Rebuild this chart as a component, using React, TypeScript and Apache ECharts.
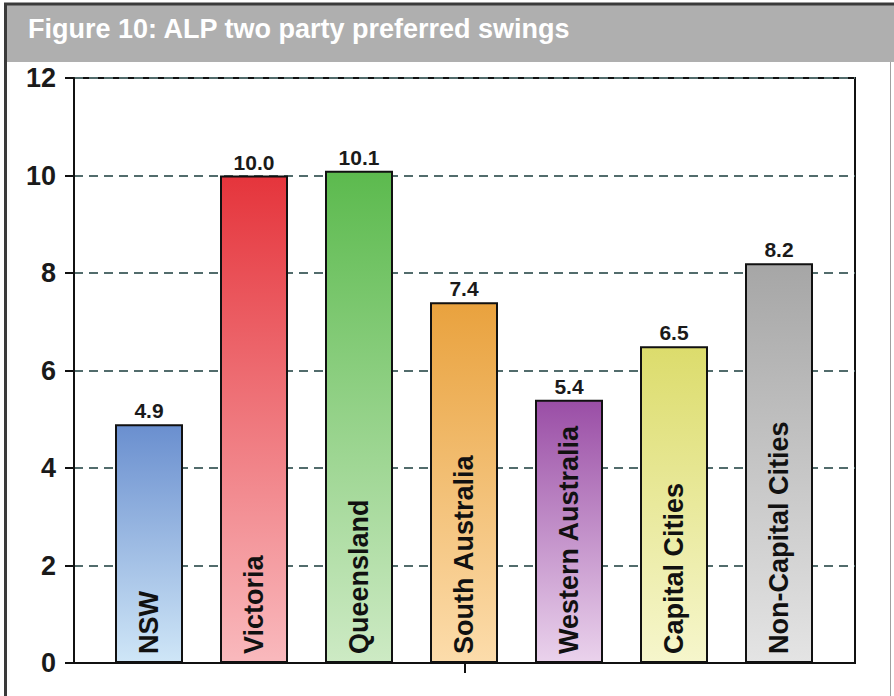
import React, { useEffect, useRef } from "react";
import * as echarts from "echarts";

const categories = [
  "NSW",
  "Victoria",
  "Queensland",
  "South Australia",
  "Western Australia",
  "Capital Cities",
  "Non-Capital Cities",
];
const swings = [4.9, 10.0, 10.1, 7.4, 5.4, 6.5, 8.2];
const barTopColors = ["#6a8fcf", "#e5353c", "#5cba4e", "#e9a23e", "#9a4ea6", "#dcdc6c", "#a6a6a6"];
const barBottomColors = ["#cfe6f7", "#f9b9bd", "#cdeac4", "#fcdcab", "#ead2ec", "#f6f6cc", "#e4e4e4"];
const yTicks = { min: 0, max: 12, interval: 2 };
const title = "Figure 10: ALP two party preferred swings";

const FONT = 'Arial, "Liberation Sans", Helvetica, sans-serif';

export default function App() {
  const ref = useRef<HTMLDivElement>(null);

  useEffect(() => {
    if (!ref.current) return;
    const chart = echarts.init(ref.current, null, { renderer: "svg" });

    const barData = swings.map((v, i) => ({
      value: v,
      itemStyle: {
        color: new echarts.graphic.LinearGradient(0, 0, 0, 1, [
          { offset: 0, color: barTopColors[i] },
          { offset: 1, color: barBottomColors[i] },
        ]),
        borderColor: "#111",
        borderWidth: 2,
      },
    }));

    chart.setOption({
      animation: false,
      backgroundColor: "#ffffff",
      graphic: [
        {
          type: "rect",
          shape: { x: 5, y: 4, width: 889, height: 58 },
          style: { fill: "#afafaf" },
          z: 1,
        },
        {
          type: "line",
          shape: { x1: 4, y1: 4, x2: 894, y2: 4 },
          style: { stroke: "#3a3a3a", lineWidth: 3 },
          z: 2,
        },
        {
          type: "line",
          shape: { x1: 5.5, y1: 3, x2: 5.5, y2: 696 },
          style: { stroke: "#3a3a3a", lineWidth: 3 },
          z: 2,
        },
        {
          type: "line",
          shape: { x1: 890.5, y1: 62, x2: 890.5, y2: 696 },
          style: { stroke: "#a0a0a0", lineWidth: 1 },
          z: 2,
        },
        {
          type: "text",
          x: 28,
          y: 29,
          style: {
            text: title,
            fill: "#ffffff",
            font: `bold 27px ${FONT}`,
            verticalAlign: "middle",
            align: "left",
          },
          z: 3,
        },
      ],
      grid: [
        {
          left: 74,
          top: 78,
          width: 781,
          height: 585,
          show: true,
          borderColor: "#111",
          borderWidth: 2,
          backgroundColor: "#fff",
        },
        {
          left: 96.5,
          top: 78,
          width: 735,
          height: 585,
        },
      ],
      xAxis: [
        {
          type: "category",
          gridIndex: 0,
          data: ["mid"],
          axisLine: { show: true, lineStyle: { color: "#111", width: 2 } },
          axisTick: {
            show: true,
            alignWithLabel: true,
            interval: 0,
            length: 10,
            lineStyle: { color: "#111", width: 2 },
          },
          axisLabel: { show: true, interval: 0, formatter: () => "", color: "transparent" },
          splitLine: { show: false },
        },
        {
          type: "category",
          gridIndex: 1,
          data: categories,
          show: false,
        },
      ],
      yAxis: [
        {
          type: "value",
          gridIndex: 0,
          min: yTicks.min,
          max: yTicks.max,
          interval: yTicks.interval,
          axisLine: { show: true, lineStyle: { color: "#111", width: 2 } },
          axisTick: { show: true, length: 9, lineStyle: { color: "#111", width: 2 } },
          axisLabel: {
            color: "#1a1a1a",
            fontFamily: FONT,
            fontWeight: "bold",
            fontSize: 27,
            margin: 18,
          },
          splitLine: {
            show: true,
            lineStyle: { color: "#526c6c", width: 2, type: [9, 6] },
          },
        },
        {
          type: "value",
          gridIndex: 1,
          min: yTicks.min,
          max: yTicks.max,
          interval: yTicks.interval,
          show: false,
          splitLine: { show: false },
        },
      ],
      series: [
        {
          type: "bar",
          xAxisIndex: 1,
          yAxisIndex: 1,
          data: barData,
          barWidth: 68,
          z: 3,
          label: {
            show: true,
            position: "top",
            distance: 3,
            color: "#1a1a1a",
            fontFamily: FONT,
            fontWeight: "bold",
            fontSize: 21,
            formatter: (p: any) => Number(p.value).toFixed(1),
          },
        },
        {
          type: "bar",
          xAxisIndex: 1,
          yAxisIndex: 1,
          data: swings,
          barWidth: 68,
          barGap: "-100%",
          z: 4,
          itemStyle: { color: "transparent", borderWidth: 0 },
          label: {
            show: true,
            position: "insideBottom",
            rotate: 90,
            align: "left",
            verticalAlign: "middle",
            distance: 9,
            color: "#111",
            fontFamily: FONT,
            fontWeight: "bold",
            fontSize: 27,
            formatter: "{b}",
          },
        },
      ],
    });

    return () => chart.dispose();
  }, []);

  return (
    <div
      ref={ref}
      style={{ position: "fixed", left: 0, top: 0, width: 894, height: 696 }}
    />
  );
}
